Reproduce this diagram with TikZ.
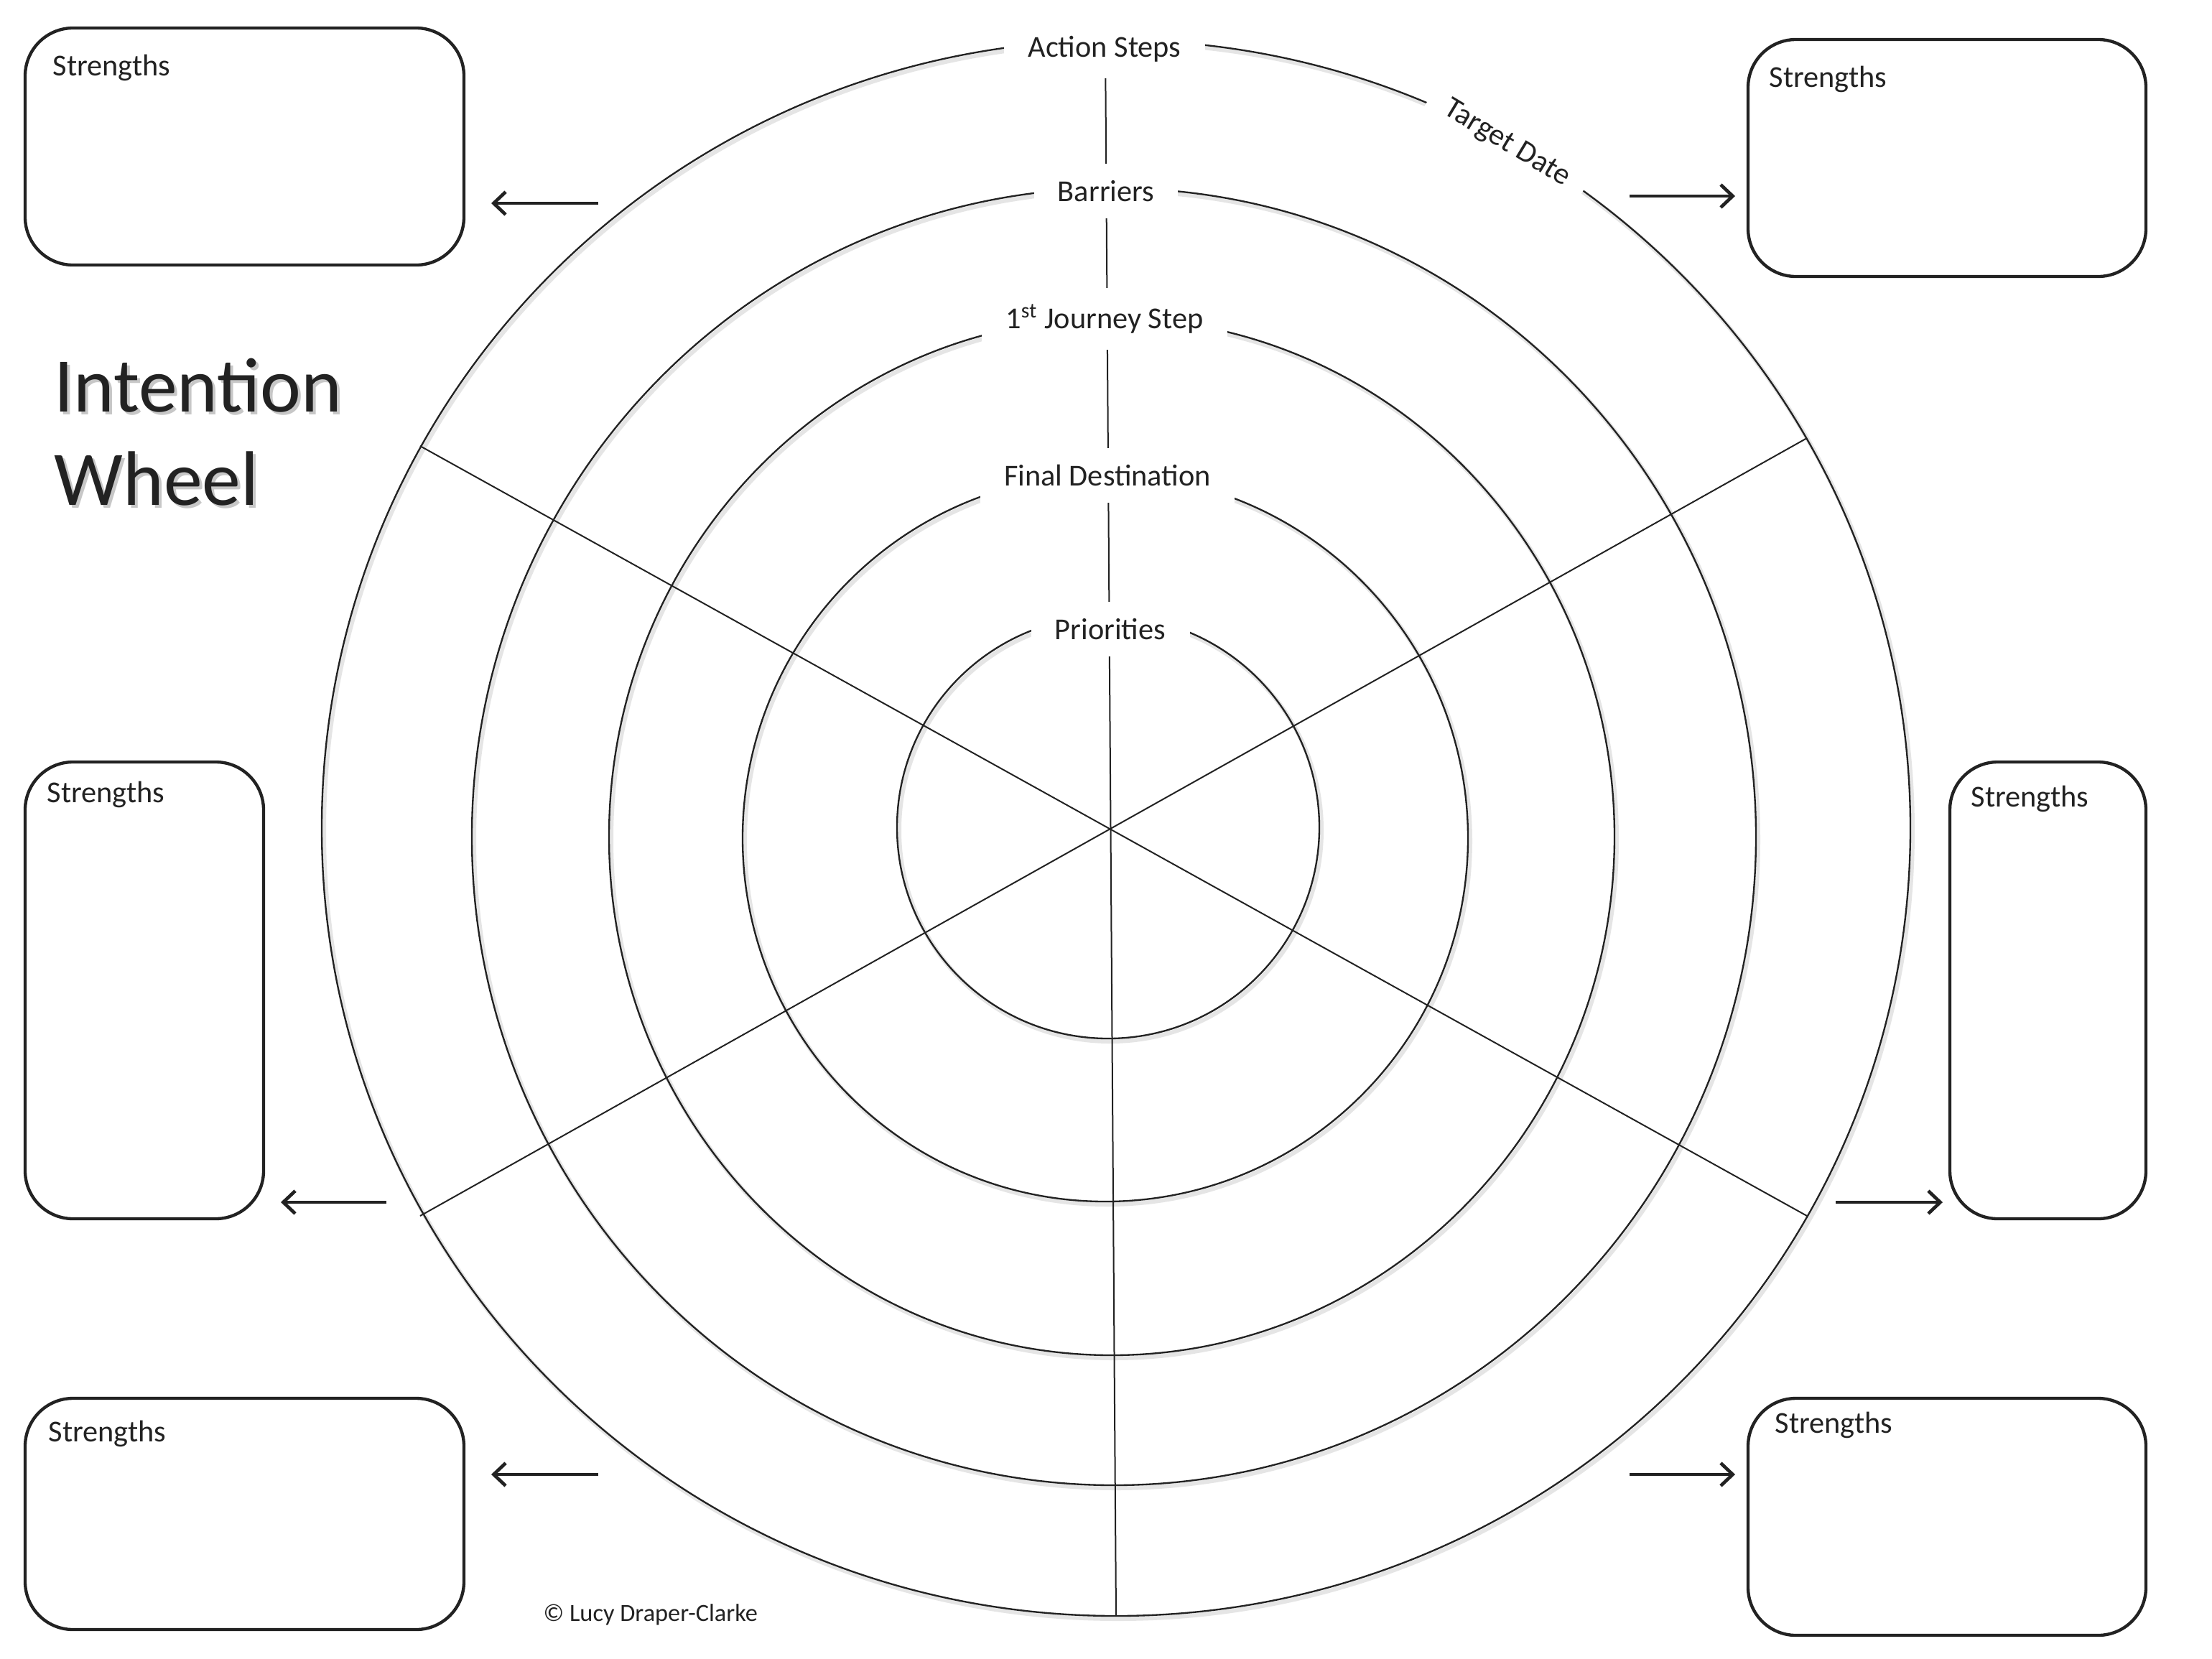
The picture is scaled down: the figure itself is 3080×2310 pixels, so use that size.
\documentclass[tikz,border=0pt]{standalone}
\usepackage{fontspec}
\setmainfont{Carlito}
\usetikzlibrary{arrows.meta}
\definecolor{ink}{HTML}{222222}
\begin{document}
\begin{tikzpicture}[x=0.3pt,y=-0.3pt,
  ring/.style={draw=ink, line width=0.7pt},
  ringshadow/.style={draw=black!10, line width=1.8pt},
  spoke/.style={draw=ink, line width=0.6pt},
  lab/.style={fill=white, text=ink, font=\fontsize{12.7}{15}\selectfont, inner xsep=10pt, inner ysep=7pt},
  sbox/.style={draw=ink, line width=1.3pt, rounded corners=20pt, inner sep=0pt},
  stext/.style={text=ink, font=\fontsize{12.7}{15}\selectfont, anchor=west, inner sep=0pt},
  arr/.style={draw=ink, line width=1.4pt, -{Straight Barb[length=5pt,width=9.5pt]}},
  titletext/.style={font=\fontsize{32.3}{38}\selectfont, anchor=base west, inner sep=0pt},
]
\useasboundingbox[fill=white] (0,0) rectangle (3080,2310);

% ring shadows
\draw[ringshadow] (1557,1157) ellipse [x radius=1106, y radius=1097];
\draw[ringshadow] (1554,1169) ellipse [x radius=894, y radius=903];
\draw[ringshadow] (1551,1169) ellipse [x radius=700, y radius=722];
\draw[ringshadow] (1542,1171) ellipse [x radius=505, y radius=506];
\draw[ringshadow] (1546,1156) ellipse [x radius=294, y radius=294];

% rings
\draw[ring] (1554,1153) ellipse [x radius=1106, y radius=1097];
\draw[ring] (1551,1165) ellipse [x radius=894, y radius=903];
\draw[ring] (1548,1165) ellipse [x radius=700, y radius=722];
\draw[ring] (1539,1167) ellipse [x radius=505, y radius=506];
\draw[ring] (1543,1152) ellipse [x radius=294, y radius=294];

% spokes
\coordinate (vt) at (1539,56);
\coordinate (vb) at (1554,2250);
\coordinate (d1a) at (585,621);
\coordinate (d1b) at (2516,1693);
\coordinate (d2a) at (2516,610);
\coordinate (d2b) at (585,1693);
\draw[spoke] (vt) -- (vb);
\draw[spoke] (d1a) -- (d1b);
\draw[spoke] (d2a) -- (d2b);

% ring labels
\node[lab] (lA) at (1538,68) {Action Steps};
\node[lab] (lB) at (1540,266) {Barriers};
\node[lab] (lJ) at (1538,444) {1\textsuperscript{st} Journey Step};
\node[lab] (lF) at (1542,662) {Final Destination};
\node[lab] (lP) at (1546,876) {Priorities};
\node[lab, rotate=-31, inner xsep=8pt, inner ysep=5pt] (lT) at (2098,200) {Target Date};

% title
\node[titletext, text=black!22] (t1s) at (79,577) {Intention};
\node[titletext, text=black!22] (t2s) at (79,707) {Wheel};
\node[titletext, text=ink] (t1) at (75,573) {Intention};
\node[titletext, text=ink] (t2) at (75,703) {Wheel};

% boxes
\node[sbox, minimum width=183.3pt, minimum height=99pt] (b1) at (340.5,204) {};
\node[sbox, minimum width=166.2pt, minimum height=99pt] (b2) at (2711,220) {};
\node[sbox, minimum width=99.6pt, minimum height=190.8pt] (b3) at (201,1379) {};
\node[sbox, minimum width=81.9pt, minimum height=190.8pt] (b4) at (2851.5,1379) {};
\node[sbox, minimum width=183.3pt, minimum height=96.6pt] (b5) at (340.5,2108) {};
\node[sbox, minimum width=166.2pt, minimum height=99pt] (b6) at (2711,2112) {};

\node[stext] (s1) at (73,94) {Strengths};
\node[stext] (s2) at (2463,110) {Strengths};
\node[stext] (s3) at (65,1106) {Strengths};
\node[stext] (s4) at (2744,1112) {Strengths};
\node[stext] (s5) at (67,1996) {Strengths};
\node[stext] (s6) at (2471,1984) {Strengths};

% arrows
\coordinate (a1s) at (833,283);  \coordinate (a1e) at (684,283);
\coordinate (a2s) at (2269,273); \coordinate (a2e) at (2416,273);
\coordinate (a3s) at (538,1674); \coordinate (a3e) at (391,1674);
\coordinate (a4s) at (2556,1674);\coordinate (a4e) at (2705,1674);
\coordinate (a5s) at (833,2053); \coordinate (a5e) at (684,2053);
\coordinate (a6s) at (2269,2053);\coordinate (a6e) at (2416,2053);
\draw[arr] (a1s) -- (a1e);
\draw[arr] (a2s) -- (a2e);
\draw[arr] (a3s) -- (a3e);
\draw[arr] (a4s) -- (a4e);
\draw[arr] (a5s) -- (a5e);
\draw[arr] (a6s) -- (a6e);

% copyright
\node[text=ink, font=\fontsize{10.3}{12}\selectfont, anchor=west, inner sep=0pt] (cp) at (756,2248) {© Lucy Draper-Clarke};
\end{tikzpicture}
\end{document}
